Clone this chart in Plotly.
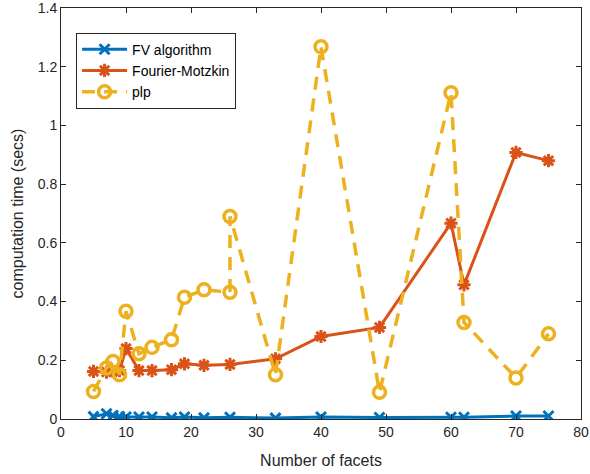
import plotly.graph_objects as go

facets = [5, 7, 8, 9, 10, 12, 14, 17, 19, 22, 26, 33, 40, 49, 60, 62, 70, 75]
fv_time = [0.008, 0.018, 0.012, 0.008, 0.007, 0.007, 0.007, 0.004, 0.007, 0.004,
           0.006, 0.003, 0.007, 0.005, 0.006, 0.006, 0.010, 0.010]
fm_time = [0.162, 0.160, 0.162, 0.165, 0.240, 0.165, 0.165, 0.168, 0.188, 0.183,
           0.186, 0.205, 0.281, 0.312, 0.667, 0.457, 0.908, 0.880]
plp_facets = [5, 7, 8, 9, 10, 12, 14, 17, 19, 22, 26, 26, 33, 40, 49, 60, 62, 70, 75]
plp_time = [0.094, 0.174, 0.196, 0.151, 0.367, 0.222, 0.244, 0.270, 0.415, 0.440,
            0.432, 0.690, 0.151, 1.268, 0.091, 1.111, 0.329, 0.140, 0.290]

x_ticks = [0, 10, 20, 30, 40, 50, 60, 70, 80]
y_ticks = [0, 0.2, 0.4, 0.6, 0.8, 1.0, 1.2, 1.4]
y_tick_text = ["0", "0.2", "0.4", "0.6", "0.8", "1", "1.2", "1.4"]

blue = "#0072BD"
orange = "#D95319"
yellow = "#EDB120"

fig = go.Figure()
fig.add_trace(go.Scatter(
    x=facets, y=fv_time, name="FV algorithm", mode="lines+markers",
    line=dict(color=blue, width=3),
    marker=dict(symbol="x-thin-open", size=10, line=dict(color=blue, width=3), color=blue),
))
fig.add_trace(go.Scatter(
    x=facets, y=fm_time, name="Fourier-Motzkin", mode="lines+markers",
    line=dict(color=orange, width=3),
    marker=dict(symbol="asterisk-open", size=11, line=dict(color=orange, width=3), color=orange),
))
fig.add_trace(go.Scatter(
    x=plp_facets, y=plp_time, name="plp", mode="lines+markers",
    line=dict(color=yellow, width=3.5, dash="13px,9px"),
    marker=dict(symbol="circle-open", size=12, line=dict(color=yellow, width=3.5), color=yellow),
))

axis_common = dict(
    showline=True, linecolor="#262626", linewidth=1, mirror="ticks",
    ticks="inside", ticklen=5, tickcolor="#262626", tickwidth=1,
    showgrid=False, zeroline=False, automargin=False, ticklabeloverflow="allow",
    tickfont=dict(family="Liberation Sans, Arial, sans-serif", size=14, color="#262626"),
)

fig.update_layout(
    width=590, height=474,
    margin=dict(l=61, r=9, t=8, b=55),
    paper_bgcolor="white", plot_bgcolor="white",
    font=dict(family="Liberation Sans, Arial, sans-serif", size=14, color="#262626"),
    xaxis=dict(range=[0, 80.0001], tickvals=x_ticks,
               title=dict(text="Number of facets", font=dict(size=16), standoff=16),
               **axis_common),
    yaxis=dict(range=[0, 1.40001], tickvals=y_ticks, ticktext=y_tick_text,
               title=dict(text="computation time (secs)", font=dict(size=16), standoff=10),
               **axis_common),
    legend=dict(x=0.029, y=0.94, xanchor="left", yanchor="top",
                bgcolor="white", bordercolor="#262626", borderwidth=1,
                font=dict(size=14, color="black"), itemwidth=45,
                tracegroupgap=0),
    showlegend=True,
)

fig.write_html("out.html", config={"displayModeBar": False})

with open("out.html", "r", encoding="utf-8") as f:
    html = f.read()
html = html.replace("<head>", "<head><style>html,body{margin:0;padding:0;overflow:hidden;}</style>", 1)
with open("out.html", "w", encoding="utf-8") as f:
    f.write(html)
